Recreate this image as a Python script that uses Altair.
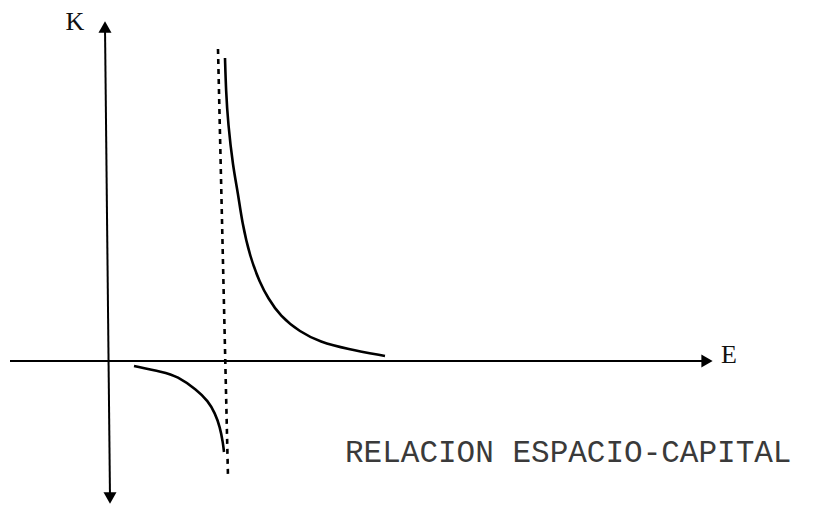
import altair as alt
import pandas as pd

# Coordinates: E (horizontal), K (vertical); origin at the axes crossing
upper_e = [117, 118, 120, 125, 130, 134, 142, 152, 160, 172, 192, 212, 239, 277]
upper_k = [303, 270, 238, 194, 168, 139, 104, 78, 63, 45, 29, 19, 12, 5]

lower_e = [26, 55, 69, 89, 100, 107, 112, 115, 116]
lower_k = [-5, -11, -15, -29, -40, -52, -66, -82, -91]

asym_e = [110, 120]
asym_k = [312, -116]

vaxis_e = [-3, 2]
vaxis_k = [334, -136]
haxis_e = [-98, 596]
haxis_k = [0, 0]

arrow_e = [-3, 2, 599]
arrow_k = [334, -137, 0]
arrow_shape = ["triangle-up", "triangle-down", "triangle-right"]

label_text = ["K", "E"]
label_e = [-33, 621]
label_k = [331, -2]

title_text = "RELACION ESPACIO-CAPITAL"
title_e = 237
title_k = -101

XD = [-100, 706]
YD = [-145, 353]

def xenc():
    return alt.X("e:Q", scale=alt.Scale(domain=XD, nice=False, zero=False), axis=None)

def yenc():
    return alt.Y("k:Q", scale=alt.Scale(domain=YD, nice=False, zero=False), axis=None)

upper = pd.DataFrame({"e": upper_e, "k": upper_k})
lower = pd.DataFrame({"e": lower_e, "k": lower_k})
asym = pd.DataFrame({"e": asym_e, "k": asym_k})
vaxis = pd.DataFrame({"e": vaxis_e, "k": vaxis_k})
haxis = pd.DataFrame({"e": haxis_e, "k": haxis_k})
arrows = pd.DataFrame({"e": arrow_e, "k": arrow_k, "shape": arrow_shape})
labels = pd.DataFrame({"e": label_e, "k": label_k, "t": label_text})
title = pd.DataFrame({"e": [title_e], "k": [title_k], "t": [title_text]})

line_upper = alt.Chart(upper).mark_line(color="black", strokeWidth=2.6, interpolate="basis").encode(x=xenc(), y=yenc(), order="e:Q")
line_lower = alt.Chart(lower).mark_line(color="black", strokeWidth=2.6, interpolate="basis").encode(x=xenc(), y=yenc(), order="e:Q")
line_asym = alt.Chart(asym).mark_line(color="black", strokeWidth=2.6, strokeDash=[5, 5]).encode(x=xenc(), y=yenc())
line_v = alt.Chart(vaxis).mark_line(color="black", strokeWidth=2).encode(x=xenc(), y=yenc())
line_h = alt.Chart(haxis).mark_line(color="black", strokeWidth=2.2).encode(x=xenc(), y=yenc())
heads = alt.Chart(arrows).mark_point(filled=True, color="black", opacity=1, size=170).encode(
    x=xenc(), y=yenc(),
    shape=alt.Shape("shape:N", scale=None, legend=None),
)
txt = alt.Chart(labels).mark_text(font="Liberation Serif", fontSize=26, color="#111", align="center", baseline="alphabetic").encode(
    x=xenc(), y=yenc(), text="t:N"
)
ttl = alt.Chart(title).mark_text(font="Liberation Mono", fontSize=31, color="#3a3a3a", align="left", baseline="alphabetic").encode(
    x=xenc(), y=yenc(), text="t:N"
)

chart = alt.layer(line_asym, line_upper, line_lower, line_v, line_h, heads, txt, ttl).properties(
    width=806, height=498, padding=0, autosize=alt.AutoSizeParams(type="none"),
    background="white",
).configure_view(stroke=None)

chart.save("out.html", embed_options={"renderer": "svg", "actions": False})
